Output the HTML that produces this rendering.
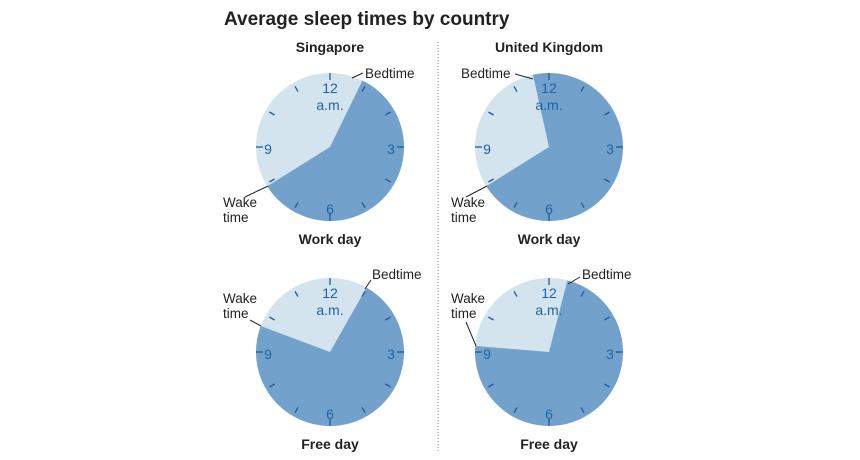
<!DOCTYPE html>
<html><head><meta charset="utf-8"><style>
body{margin:0;background:#fff;}
svg{display:block;font-family:"Liberation Sans",sans-serif;}
.t{font-weight:bold;fill:#222;}
.n{fill:#1f63a3;font-size:14px;text-anchor:middle;}
.a{fill:#222;font-size:13.5px;}
.l{stroke:#222;stroke-width:1;fill:none;}
</style></head><body>
<svg id="s" width="860" height="460" viewBox="0 0 860 460">
<text x="224" y="25" class="t" font-size="19">Average sleep times by country</text>
<text x="330" y="52" class="t" font-size="14" text-anchor="middle">Singapore</text>
<text x="549" y="52" class="t" font-size="14" text-anchor="middle">United Kingdom</text>
<text x="330" y="244" class="t" font-size="14" text-anchor="middle">Work day</text>
<text x="549" y="244" class="t" font-size="14" text-anchor="middle">Work day</text>
<text x="330" y="449" class="t" font-size="14" text-anchor="middle">Free day</text>
<text x="549" y="449" class="t" font-size="14" text-anchor="middle">Free day</text>
<line x1="438" y1="42" x2="438" y2="452" stroke="#888" stroke-dasharray="1,2"/>
<g id="g"></g>
<text x="365" y="78" class="a">Bedtime</text><path class="l" d="M352,78 L363,73"/>
<text x="223" y="207" class="a">Wake</text><text x="223" y="222" class="a">time</text><path class="l" d="M245,197 L268,186"/>
<text x="461" y="78" class="a">Bedtime</text><path class="l" d="M515,74 L533,79"/>
<text x="451" y="207" class="a">Wake</text><text x="451" y="222" class="a">time</text><path class="l" d="M466,197 L487,186"/>
<text x="372" y="279" class="a">Bedtime</text><path class="l" d="M365,289 L371,280"/>
<text x="223" y="303" class="a">Wake</text><text x="223" y="318" class="a">time</text><path class="l" d="M250,320 L261,326"/>
<text x="582" y="279" class="a">Bedtime</text><path class="l" d="M568,284 L580,277"/>
<text x="451" y="303" class="a">Wake</text><text x="451" y="318" class="a">time</text><path class="l" d="M466,322 L476,346"/>
</svg>
<script>
var g=document.getElementById('g'),h='';
var R=74;
var cl=[[330,147,26,238],[549,147,347.5,238],[330,352,29.6,290.6],[549,352,14.4,274.7]];
function P(cx,cy,a,r){var t=a*Math.PI/180;return [cx+r*Math.sin(t),cy-r*Math.cos(t)];}
cl.forEach(function(c){
 var cx=c[0],cy=c[1],b=c[2],w=c[3];
 h+='<circle cx="'+cx+'" cy="'+cy+'" r="'+R+'" fill="#d3e4ee"/>';
 var e=w; if(e<b)e+=360; var large=(e-b)>180?1:0;
 var p1=P(cx,cy,b,R),p2=P(cx,cy,e,R);
 h+='<path d="M'+cx+','+cy+' L'+p1[0]+','+p1[1]+' A'+R+','+R+' 0 '+large+' 1 '+p2[0]+','+p2[1]+' Z" fill="#72a1cb"/>';
 for(var i=0;i<12;i++){var a=i*30,major=i%3==0;var q1=P(cx,cy,a,major?67:64),q2=P(cx,cy,a,major?74:70);
  h+='<line x1="'+q1[0]+'" y1="'+q1[1]+'" x2="'+q2[0]+'" y2="'+q2[1]+'" stroke="#1f5d99" stroke-width="1.3"/>';}
 h+='<text class="n" x="'+cx+'" y="'+(cy-54)+'">12</text>';
 h+='<text class="n" x="'+cx+'" y="'+(cy-37)+'">a.m.</text>';
 h+='<text class="n" x="'+(cx+61)+'" y="'+(cy+7)+'">3</text>';
 h+='<text class="n" x="'+cx+'" y="'+(cy+67)+'">6</text>';
 h+='<text class="n" x="'+(cx-62)+'" y="'+(cy+7)+'">9</text>';
});
g.innerHTML=h;
</script>
</body></html>
